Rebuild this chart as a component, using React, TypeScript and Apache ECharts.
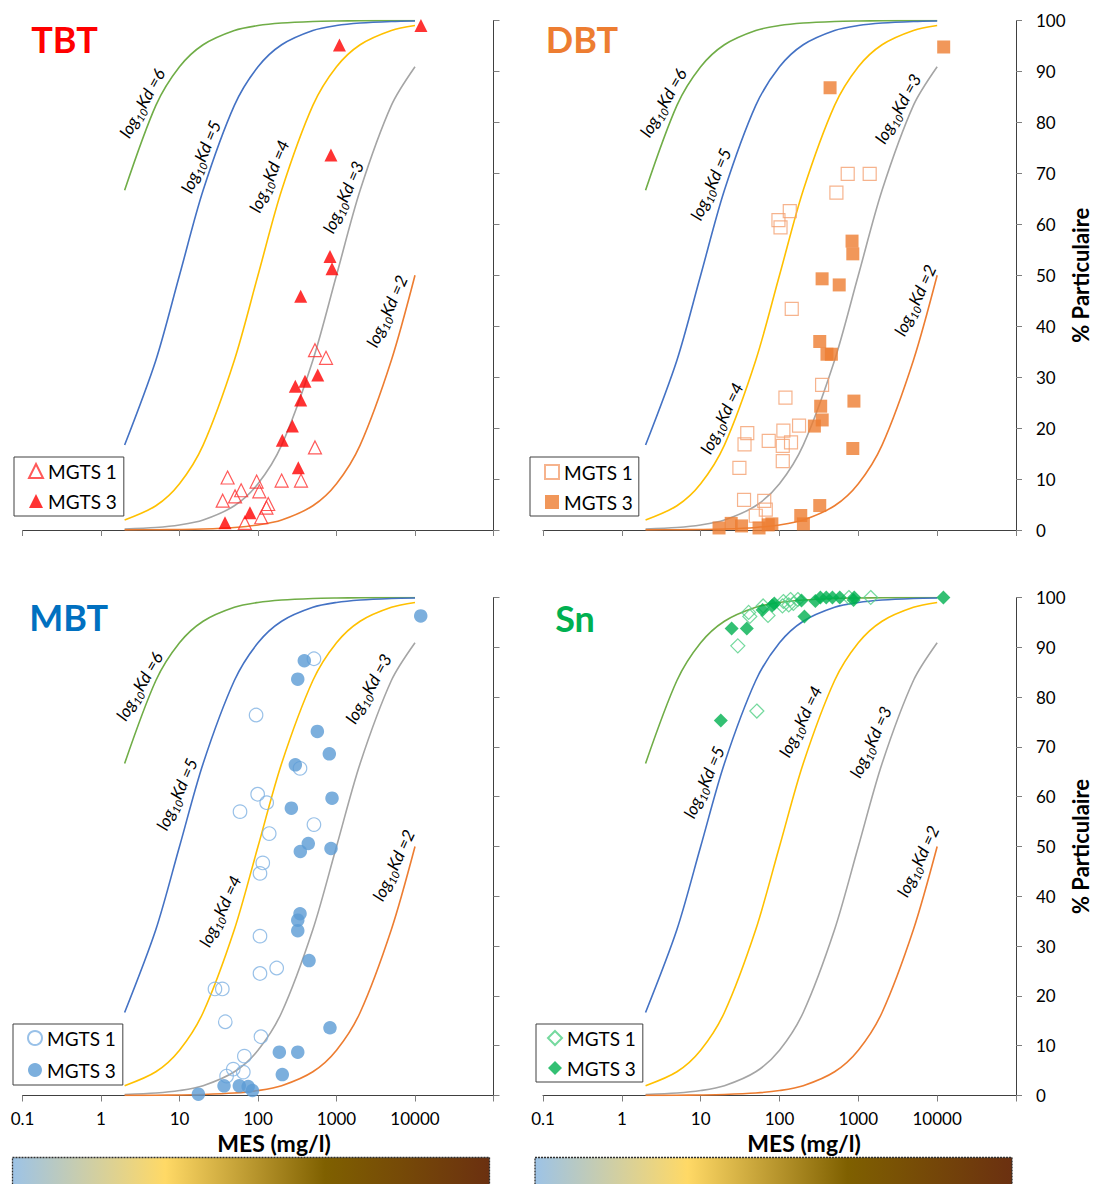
import React, { useEffect, useRef } from 'react';
import * as echarts from 'echarts';

// ---------- data ----------
const MES = [2, 5, 10, 20, 50, 100, 200, 500, 1000, 2000, 5000, 10000];
const KD6 = [66.67, 83.33, 90.91, 95.24, 98.04, 99.01, 99.5, 99.8, 99.9, 99.95, 99.98, 99.99];
const KD5 = [16.67, 33.33, 50, 66.67, 83.33, 90.91, 95.24, 98.04, 99.01, 99.5, 99.8, 99.9];
const KD4 = [1.96, 4.76, 9.09, 16.67, 33.33, 50, 66.67, 83.33, 90.91, 95.24, 98.04, 99.01];
const KD3 = [0.2, 0.5, 0.99, 1.96, 4.76, 9.09, 16.67, 33.33, 50, 66.67, 83.33, 90.91];
const KD2 = [0.02, 0.05, 0.1, 0.2, 0.5, 0.99, 1.96, 4.76, 9.09, 16.67, 33.33, 50];

const X_TICK_LABELS = ['0.1', '1', '10', '100', '1000', '10000', ''];
const PANEL_NAMES = ['TBT', 'DBT', 'MBT', 'Sn'];
const SERIES_NAMES = ['MGTS 1', 'MGTS 3'];
const X_NAME = 'MES (mg/l)';
const Y_NAME = '% Particulaire';

const TBT_MGTS1 = [[532, 35.3], [735, 33.8], [532, 16.2], [41, 10.3], [96, 9.5], [200, 9.7], [353, 9.7], [61, 7.8], [104, 7.6], [51, 6.6], [35.5, 5.75], [135, 5.1], [128, 4.4], [110, 2.5], [68, 1.4]];
const TBT_MGTS3 = [[11900, 99], [1090, 95.2], [850, 73.6], [826, 53.7], [877, 51.3], [350, 45.9], [577, 30.4], [397, 29.2], [299, 28.2], [350, 25.5], [274, 20.4], [204, 17.6], [326, 12.2], [79, 3.4], [38, 1.4]];

const DBT_MGTS1 = [[733, 69.9], [1393, 69.9], [527, 66.2], [135, 62.6], [97, 60.8], [103, 59.4], [143, 43.4], [347, 28.5], [119, 26], [177, 20.5], [39, 19], [112, 19.5], [73, 17.5], [36, 16.8], [140, 17.2], [110, 16.5], [31, 12.2], [110, 13.5], [35.5, 5.9], [64, 5.7], [67, 4], [50, 2.8]];
const DBT_MGTS3 = [[12100, 94.8], [438, 86.8], [832, 56.7], [851, 54.2], [347, 49.3], [572, 48.1], [324, 37], [400, 34.5], [455, 34.5], [879, 25.3], [333, 24.3], [348, 21.6], [277, 20.4], [851, 16], [324, 4.8], [186, 2.85], [201, 1.2], [24.4, 1.3], [17.1, 0.4], [33, 0.8], [55, 0.4], [72, 1], [80, 1.2]];

const MBT_MGTS1 = [[516, 87.7], [94.5, 76.4], [343, 65.7], [99, 60.5], [129, 58.8], [59, 57], [516, 54.4], [139, 52.6], [115, 46.7], [106, 44.6], [106, 32], [173, 25.6], [106, 24.5], [28.3, 21.4], [35.1, 21.4], [38.3, 14.8], [109, 11.8], [67, 7.9], [48.4, 5.3], [65, 4.7], [39.8, 3.9]];
const MBT_MGTS3 = [[11830, 96.3], [389, 87.3], [321, 83.6], [570, 73.1], [810, 68.6], [299, 66.4], [877, 59.7], [266, 57.7], [437, 50.6], [851, 49.6], [346, 49], [343, 36.5], [321, 35.2], [321, 33.1], [447, 27.1], [826, 13.6], [187, 8.7], [321, 8.7], [204, 4.2], [36.9, 1.95], [57.8, 1.95], [75, 1.8], [85, 1], [17.4, 0.26]];

const SN_MGTS1 = [[1436, 100], [759, 100], [138, 99.6], [112, 99.2], [171, 99.6], [131, 98.5], [109, 98.3], [150, 98.8], [62, 98.3], [40.6, 97], [42, 96.2], [71.5, 96.4], [29.6, 90.3], [51.6, 77.2]];
const SN_MGTS3 = [[12000, 100], [887, 100], [870, 99.5], [581, 100], [469, 100], [392, 100], [330, 100], [285, 99.3], [190, 99.4], [86, 98.8], [81, 98.4], [61, 97.5], [207, 96.2], [24.7, 93.8], [38.5, 93.8], [18, 75.3]];

const POINTS = [
  [TBT_MGTS1, TBT_MGTS3],
  [DBT_MGTS1, DBT_MGTS3],
  [MBT_MGTS1, MBT_MGTS3],
  [SN_MGTS1, SN_MGTS3],
];
const CURVES = [
  { kd: 6, values: KD6 },
  { kd: 5, values: KD5 },
  { kd: 4, values: KD4 },
  { kd: 3, values: KD3 },
  { kd: 2, values: KD2 },
];

// ---------- styles / layout ----------
const FONT = 'Lato, "Open Sans", sans-serif';
const CURVE_COLORS: Record<number, string> = { 6: '#70ad47', 5: '#4472c4', 4: '#ffc000', 3: '#a5a5a5', 2: '#ed7d31' };

const PANELS = [
  {
    grid: { left: 22.5, top: 20.5, width: 471, height: 509.5 },
    showX: false, showY: false,
    title: { x: 64.5, y: 38.7, color: '#ff0000' },
    legend: { left: 14, top: 457, padding: [4, 7, 5, 14], itemGap: 10 },
    symbol: 'triangle', size: 13, fill: '#ff0000', hollow: '#ff3030',
    xNamePad: 32,
  },
  {
    grid: { left: 543, top: 20.5, width: 473, height: 509.5 },
    showX: false, showY: true,
    title: { x: 582, y: 39, color: '#ed7d31' },
    legend: { left: 530, top: 457, padding: [5, 6, 4, 14], itemGap: 10 },
    symbol: 'rect', size: 13, fill: '#ed7d31', hollow: '#f4a070',
    xNamePad: 49,
  },
  {
    grid: { left: 22.5, top: 597.5, width: 471, height: 498 },
    showX: true, showY: false,
    title: { x: 68.7, y: 616.7, color: '#0070c0' },
    legend: { left: 13, top: 1024, padding: [4, 7, 5, 14], itemGap: 12 },
    symbol: 'circle', size: 13.5, fill: '#5b9bd5', hollow: '#7fb2e2',
    xNamePad: 32,
  },
  {
    grid: { left: 543, top: 597.5, width: 473, height: 498 },
    showX: true, showY: true,
    title: { x: 575, y: 618, color: '#00b050' },
    legend: { left: 536, top: 1024, padding: [4, 7, 4, 11], itemGap: 10 },
    symbol: 'diamond', size: 14, fill: '#00b050', hollow: '#52cf86',
    xNamePad: 49,
  },
];

// [panel, kd, centerX, centerY, angleDeg]
const KD_LABELS: [number, number, number, number, number][] = [
  [0, 6, 142, 103, 61], [0, 5, 200.7, 156.6, 67], [0, 4, 269, 176, 67], [0, 3, 343, 197, 66], [0, 2, 386.7, 311, 66],
  [1, 6, 663, 102.6, 60], [1, 5, 710.6, 184, 66], [1, 4, 721.6, 418, 64], [1, 3, 897.8, 108.5, 61], [1, 2, 915, 300, 65],
  [2, 6, 139.3, 686, 60], [2, 5, 176.7, 794, 66], [2, 4, 220, 911, 65], [2, 3, 368.3, 688.6, 61], [2, 2, 393.3, 865, 65],
  [3, 5, 703.8, 782, 66], [3, 4, 800.3, 721.4, 64], [3, 3, 870.5, 741.8, 65], [3, 2, 917.8, 861, 65],
];

const BAR_STOPS = [
  { offset: 0, color: '#9dc3e6' },
  { offset: 0.32, color: '#ffd966' },
  { offset: 0.655, color: '#7f6000' },
  { offset: 1, color: '#6b3010' },
];
const BARS = [
  { x: 12.5, y: 1157.5, w: 477, h: 30 },
  { x: 535, y: 1157.5, w: 477, h: 30 },
];

function buildOption() {
  const grid: any[] = [];
  const xAxis: any[] = [];
  const yAxis: any[] = [];
  const series: any[] = [];
  const legend: any[] = [];
  const graphic: any[] = [];

  PANELS.forEach((p, i) => {
    grid.push({ ...p.grid, containLabel: false });
    xAxis.push({
      type: 'log', logBase: 10, min: 0.1, max: 100000, gridIndex: i,
      axisLine: { show: true, onZero: false, lineStyle: { color: '#404040', width: 1 } },
      axisTick: { show: true, inside: false, length: 6, lineStyle: { color: '#7f7f7f', width: 1 } },
      minorTick: { show: false },
      splitLine: { show: false },
      axisLabel: {
        show: p.showX, margin: 14, fontSize: 17, lineHeight: 17, fontFamily: FONT, color: '#000',
        formatter: (v: number) => X_TICK_LABELS[Math.round(Math.log10(v)) + 1] ?? '',
      },
      name: p.showX ? X_NAME : '',
      nameLocation: 'middle', nameGap: 35.5,
      nameTextStyle: { fontSize: 23, lineHeight: 23, fontWeight: 'bold', fontFamily: FONT, color: '#000', padding: [0, 0, 0, p.xNamePad] },
    });
    yAxis.push({
      type: 'value', position: 'right', min: 0, max: 100, interval: 10, gridIndex: i,
      axisLine: { show: true, onZero: false, lineStyle: { color: '#404040', width: 1 } },
      axisTick: { show: true, inside: false, length: 6, lineStyle: { color: '#7f7f7f', width: 1 } },
      splitLine: { show: false },
      axisLabel: { show: p.showY, margin: 20, fontSize: 17, fontFamily: FONT, color: '#000' },
      name: p.showY ? Y_NAME : '',
      nameLocation: 'middle', nameGap: 53, nameRotate: 90,
      nameTextStyle: { fontSize: 22, fontWeight: 'bold', fontFamily: FONT, color: '#000' },
    });

    CURVES.forEach((c) => {
      series.push({
        type: 'line', xAxisIndex: i, yAxisIndex: i,
        name: `${PANEL_NAMES[i]} Kd${c.kd}`,
        data: MES.map((m, j) => [m, c.values[j]]),
        showSymbol: false, symbol: 'none', silent: true, z: 2,
        smooth: 0.3,
        lineStyle: { color: CURVE_COLORS[c.kd], width: 1.6 },
      });
    });

    POINTS[i].forEach((pts, k) => {
      const hollow = k === 0;
      series.push({
        type: 'scatter', xAxisIndex: i, yAxisIndex: i,
        name: `${PANEL_NAMES[i]} ${SERIES_NAMES[k]}`,
        data: pts,
        symbol: p.symbol, symbolSize: p.size, z: 3 + k,
        itemStyle: hollow
          ? { color: 'rgba(255,255,255,0)', borderColor: p.hollow, borderWidth: 1.2 }
          : { color: p.fill, borderWidth: 0 },
      });
    });

    legend.push({
      data: SERIES_NAMES.map((s) => `${PANEL_NAMES[i]} ${s}`),
      formatter: (n: string) => n.split(' ').slice(1).join(' '),
      left: p.legend.left, top: p.legend.top, orient: 'vertical',
      padding: p.legend.padding, itemGap: p.legend.itemGap,
      itemWidth: 14, itemHeight: 14, selectedMode: false,
      borderColor: '#404040', borderWidth: 1, backgroundColor: '#fff',
      textStyle: { fontSize: 19, lineHeight: 20, fontFamily: FONT, color: '#000' },
    });

    graphic.push({
      type: 'text', x: p.title.x, y: p.title.y, z: 10,
      style: {
        text: PANEL_NAMES[i], fill: p.title.color, align: 'center', verticalAlign: 'middle',
        font: `bold 36px ${FONT}`,
      },
    });
  });

  KD_LABELS.forEach(([pi, kd, x, y, ang]) => {
    graphic.push({
      type: 'text', x, y, rotation: (ang * Math.PI) / 180, z: 10,
      style: {
        text: `{a|log}{s|10}{a|Kd =${kd}}`,
        align: 'center', verticalAlign: 'middle', fill: '#000',
        rich: {
          a: { fontSize: 17, fontStyle: 'italic', fontFamily: FONT, fill: '#000', lineHeight: 22, verticalAlign: 'middle' },
          s: { fontSize: 11, fontStyle: 'italic', fontFamily: FONT, fill: '#000', lineHeight: 12, verticalAlign: 'bottom' },
        },
      },
    });
  });

  BARS.forEach((b) => {
    graphic.push({
      type: 'rect', shape: { x: b.x, y: b.y, width: b.w, height: b.h }, z: 1,
      style: {
        fill: new echarts.graphic.LinearGradient(0, 0, 1, 0, BAR_STOPS),
        stroke: '#303030', lineWidth: 1.3, lineDash: [2, 1],
      },
    });
  });

  return {
    animation: false,
    backgroundColor: '#fff',
    grid, xAxis, yAxis, series, legend, graphic,
  };
}

export default function App() {
  const ref = useRef<HTMLDivElement>(null);
  useEffect(() => {
    if (!ref.current) return;
    const chart = echarts.init(ref.current, undefined, { renderer: 'svg' });
    chart.setOption(buildOption() as any);
    return () => chart.dispose();
  }, []);
  return (
    <div
      ref={ref}
      style={{ position: 'absolute', left: 0, top: 0, width: 1093, height: 1184 }}
    />
  );
}
